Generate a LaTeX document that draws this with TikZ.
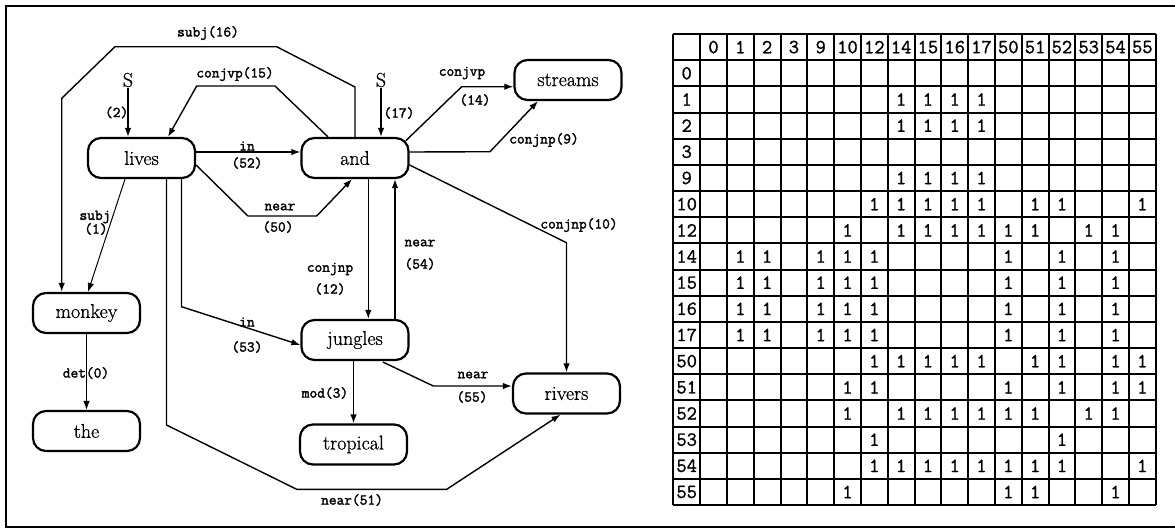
\documentclass[tikz,border=0pt]{standalone}
\usepackage{fontspec}
\usetikzlibrary{arrows.meta,calc}
\newfontfamily\boxfont{Latin Modern Roman}[FakeBold=0.8]
\newfontfamily\lblfont{Latin Modern Mono}[FakeBold=2]
\newfontfamily\tabfont{Latin Modern Mono}[FakeBold=1.2]
\begin{document}
\begin{tikzpicture}[x=1pt,y=-1pt,
  wbox/.style={draw, line width=2.2pt, rounded corners=13pt, minimum width=107pt, minimum height=40pt, inner sep=0pt, font=\boxfont\fontsize{20}{24}\selectfont},
  snode/.style={inner sep=1pt, font=\boxfont\fontsize{20}{24}\selectfont},
  arr/.style={line width=1.4pt, -{Latex[length=9pt,width=6.5pt]}},
  thinarr/.style={line width=1pt, -{Latex[length=9pt,width=6.5pt]}},
  elab/.style={inner sep=1pt, font=\lblfont\fontsize{15}{17}\selectfont},
  tnum/.style={inner sep=0pt, font=\tabfont\fontsize{20}{23}\selectfont},
  gridline/.style={line width=2pt},
  frameline/.style={line width=2.4pt}]
\useasboundingbox (0,0) rectangle (1175,531);
\fill[white] (0,0) rectangle (1175,531);
\draw[frameline] (1175,6) -- (6,6) -- (6,527) -- (1175,527);

% nodes
\node[wbox] (lives) at (141.5,158) {lives};
\node[wbox] (and) at (355,158) {and};
\node[wbox] (streams) at (568,80) {streams};
\node[wbox] (monkey) at (86.5,313) {monkey};
\node[wbox] (the) at (86.5,431) {the};
\node[wbox] (jungles) at (355,340) {jungles};
\node[wbox] (tropical) at (353.5,444.5) {tropical};
\node[wbox] (rivers) at (566.5,393.5) {rivers};
\node[snode] (s2) at (128,80) {S};
\node[snode] (s17) at (381,80) {S};

% bend points
\coordinate (a16) at (355,87);
\coordinate (b16) at (276.7,46.7);
\coordinate (c16) at (115,46.7);
\coordinate (d16) at (61.7,98.3);
\coordinate (a15) at (275,86);
\coordinate (b15) at (196.7,86);
\coordinate (a50) at (248,216);
\coordinate (b50) at (316.7,216);
\coordinate (a14) at (461.7,86.7);
\coordinate (a9) at (490,151.7);
\coordinate (a10) at (566.5,242.7);
\coordinate (a53) at (181.5,306.7);
\coordinate (a51) at (166.5,425);
\coordinate (b51) at (296.7,489.3);
\coordinate (c51) at (446.7,489.3);
\coordinate (a55) at (433.3,386);

% connectors
\draw[arr] (and.north) -- (a16) -- (b16) -- (c16) -- (d16) -- (d16 |- monkey.north);
\draw[arr] ($(and.north)+(-27,0)$) -- (a15) -- (b15) -- ($(lives.north)+(26.5,0)$);
\draw[arr] (s2) -- (s2 |- lives.north);
\draw[arr] (s17) -- (s17 |- and.north);
\draw[arr] ($(lives.east)+(0,-6)$) -- ($(and.west)+(0,-6)$);
\draw[arr] ($(lives.east)+(0,7)$) -- (a50) -- (b50) -- ($(and.south)+(-3,0)$);
\draw[arr] ($(and.north east)+(-3.8,3.8)$) -- (a14) -- (a14 -| streams.west);
\draw[arr] ($(and.east)+(0,-6)$) -- (a9) -- ($(streams.south)+(-30,0)$);
\draw[arr] ($(and.east)+(0,7)$) -- (a10) -- (a10 |- rivers.north);
\draw[thinarr] ($(lives.south)+(-16.5,0)$) -- ($(monkey.north)+(1.5,0)$);
\draw[arr] ($(lives.south)+(40,0)$) -- (a53) -- ($(jungles.west)+(0,5)$);
\draw[arr] ($(lives.south)+(25,0)$) -- (a51) -- (b51) -- (c51) -- ($(rivers.south)+(-6,0)$);
\draw[arr] ($(and.south)+(13.3,0)$) -- ($(jungles.north)+(13.3,0)$);
\draw[arr] ($(jungles.north)+(40,0)$) -- ($(and.south)+(40,0)$);
\draw[arr] (tropical.north |- jungles.south) -- (tropical.north);
\draw[arr] ($(jungles.south)+(28,1)$) -- (a55) -- (a55 -| rivers.west);
\draw[thinarr] (monkey.south) -- (monkey.south |- the.north);

% edge labels
\node[elab] (t16) at (208,33) {subj(16)};
\node[elab] (t15) at (235,74) {conjvp(15)};
\node[elab] (t2) at (116.7,112.5) {(2)};
\node[elab] (t17) at (399,113) {(17)};
\node[elab] (t52a) at (247,146) {in};
\node[elab] (t52b) at (247,163) {(52)};
\node[elab] (t50a) at (280,207) {near};
\node[elab] (t50b) at (278,227) {(50)};
\node[elab] (t14a) at (462,73) {conjvp};
\node[elab] (t14b) at (475,100) {(14)};
\node[elab] (t9) at (544,140) {conjnp(9)};
\node[elab] (t10) at (579,225) {conjnp(10)};
\node[elab] (t1a) at (95,217) {subj};
\node[elab] (t1b) at (96,229) {(1)};
\node[elab] (t12a) at (330,269) {conjnp};
\node[elab] (t12b) at (330,289) {(12)};
\node[elab] (t54a) at (420,243) {near};
\node[elab] (t54b) at (420,264) {(54)};
\node[elab] (t53a) at (247,322) {in};
\node[elab] (t53b) at (247,347) {(53)};
\node[elab] (t3) at (325,393) {mod(3)};
\node[elab] (t55a) at (473,375) {near};
\node[elab] (t55b) at (472,397) {(55)};
\node[elab] (t51) at (352,500) {near(51)};
\node[elab] (t0) at (86,373) {det(0)};

% table
\def\tx{673.3}\def\dx{26.8}\def\ty{34}\def\dy{26.17}
\foreach \i in {0,...,18}
  \draw[gridline] ({\tx+\i*\dx},{\ty}) -- ({\tx+\i*\dx},{\ty+18*\dy});
\foreach \j in {0,...,18}
  \draw[gridline] ({\tx},{\ty+\j*\dy}) -- ({\tx+18*\dx},{\ty+\j*\dy});
\foreach \l [count=\i from 0] in {0,1,2,3,9,10,12,14,15,16,17,50,51,52,53,54,55}
  \node[tnum] (h\i) at ({\tx+(\i+1.5)*\dx},{\ty+0.5*\dy}) {\l};
\foreach \l [count=\i from 1] in {0,1,2,3,9,10,12,14,15,16,17,50,51,52,53,54,55}
  \node[tnum] (r\i) at ({\tx+0.5*\dx},{\ty+(\i+0.5)*\dy}) {\l};
\foreach \r/\cols in {2/{7,8,9,10}, 3/{7,8,9,10}, 5/{7,8,9,10},
    6/{6,7,8,9,10,12,13,16}, 7/{5,7,8,9,10,11,12,14,15},
    8/{1,2,4,5,6,11,13,15}, 9/{1,2,4,5,6,11,13,15}, 10/{1,2,4,5,6,11,13,15}, 11/{1,2,4,5,6,11,13,15},
    12/{6,7,8,9,10,12,13,15,16}, 13/{5,6,11,13,15,16}, 14/{5,7,8,9,10,11,12,14,15},
    15/{6,13}, 16/{6,7,8,9,10,11,12,13,16}, 17/{5,11,12,15}}
  \foreach \c in \cols
    \node[tnum] (c\r-\c) at ({\tx+(\c+1.5)*\dx},{\ty+(\r+0.5)*\dy}) {1};
\end{tikzpicture}
\end{document}
